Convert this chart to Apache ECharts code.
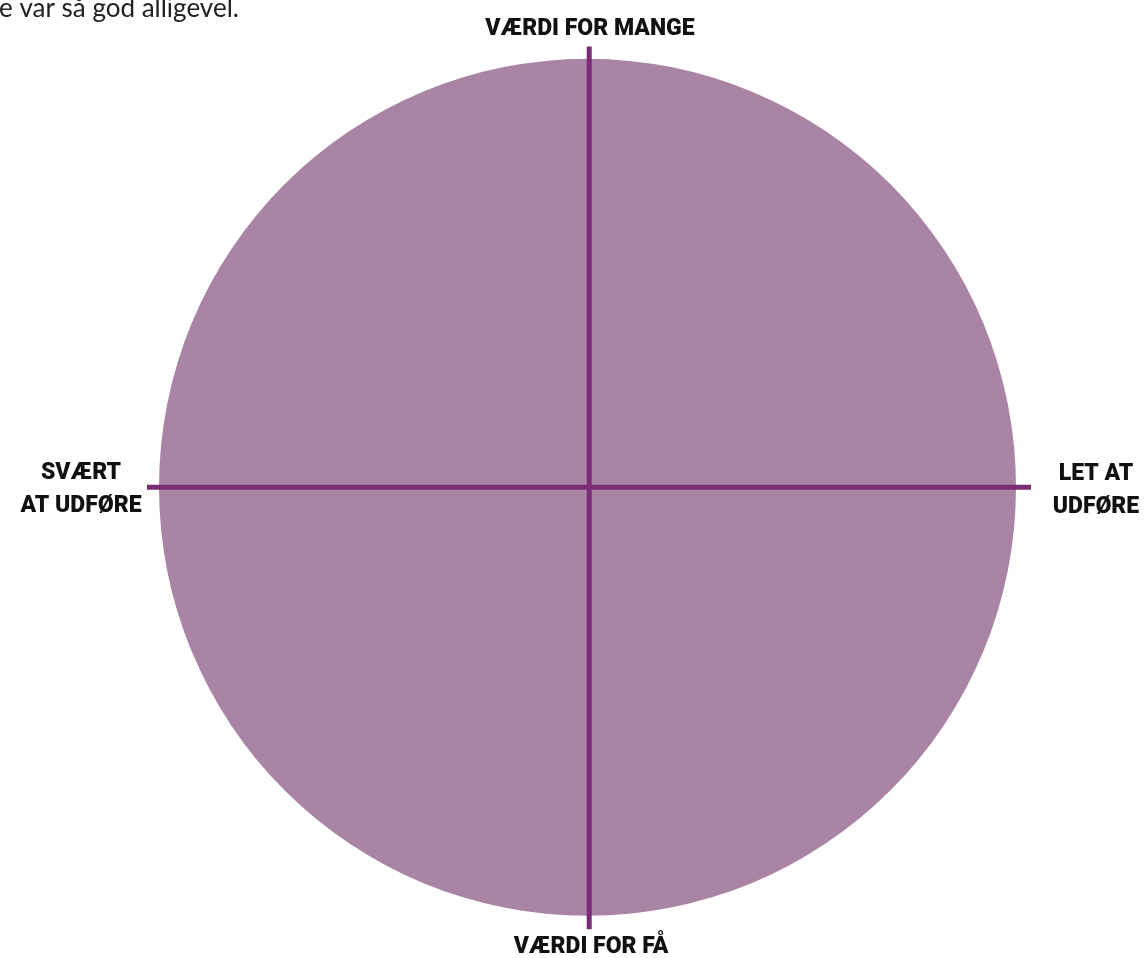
<!DOCTYPE html>
<html><head><meta charset="utf-8">
<script src="https://cdn.jsdelivr.net/npm/echarts@6/dist/echarts.min.js"></script>
<style>html,body{margin:0;padding:0;background:#fff}#c{width:1145px;height:958px}</style>
</head><body><div id="c"></div>
<script>
// data (unit space: circle radius 1 centred at origin)
const circleCenter = [0, 0];
const circleRadius = 1;
const hAxisLine = [[-1.028, 0], [1.035, 0]];
const vAxisLine = [[0.004, 1.03], [0.004, -1.033]];
const labelTop = 'VÆRDI FOR MANGE';
const labelBottom = 'VÆRDI FOR FÅ';
const labelLeft = 'SVÆRT\nAT UDFØRE';
const labelRight = 'LET AT\nUDFØRE';
const introText = 'e var så god alligevel.';

const chart = echarts.init(document.getElementById('c'));
const R = 428.5, cx = 587.5, cy = 488, ext = 1.1;
const labelStyle = {fontFamily: 'Roboto', fontWeight: 900, fontSize: 23, fill: '#111', lineHeight: 33};
chart.setOption({
  animation: false,
  grid: {left: cx - ext * R, width: 2 * ext * R, top: cy - ext * R, height: 2 * ext * R},
  xAxis: {type: 'value', min: -ext, max: ext, show: false},
  yAxis: {type: 'value', min: -ext, max: ext, show: false},
  series: [
    {
      type: 'custom',
      data: [[circleCenter[0], circleCenter[1], circleRadius]],
      clip: false,
      renderItem: function (params, api) {
        const c = api.coord([api.value(0), api.value(1)]);
        const r = api.size([api.value(2), api.value(2)])[0];
        return {type: 'circle', shape: {cx: c[0], cy: c[1], r: r}, style: {fill: '#a984a5'}};
      }
    },
    {type: 'line', data: hAxisLine, symbol: 'none', clip: false, lineStyle: {color: '#7b2c77', width: 5}},
    {type: 'line', data: vAxisLine, symbol: 'none', clip: false, lineStyle: {color: '#7b2c77', width: 5}}
  ],
  graphic: [
    {type: 'text', x: -1, y: -4, style: {text: introText, fontFamily: 'Lato', fontSize: 26, fill: '#222', verticalAlign: 'top'}},
    {type: 'text', x: 590, y: 29, style: Object.assign({text: labelTop, align: 'center', verticalAlign: 'middle'}, labelStyle)},
    {type: 'text', x: 591, y: 947, style: Object.assign({text: labelBottom, align: 'center', verticalAlign: 'middle'}, labelStyle)},
    {type: 'text', x: 81, y: 490, style: Object.assign({text: labelLeft, align: 'center', verticalAlign: 'middle'}, labelStyle)},
    {type: 'text', x: 1096, y: 491, style: Object.assign({text: labelRight, align: 'center', verticalAlign: 'middle'}, labelStyle)}
  ]
});
</script></body></html>
